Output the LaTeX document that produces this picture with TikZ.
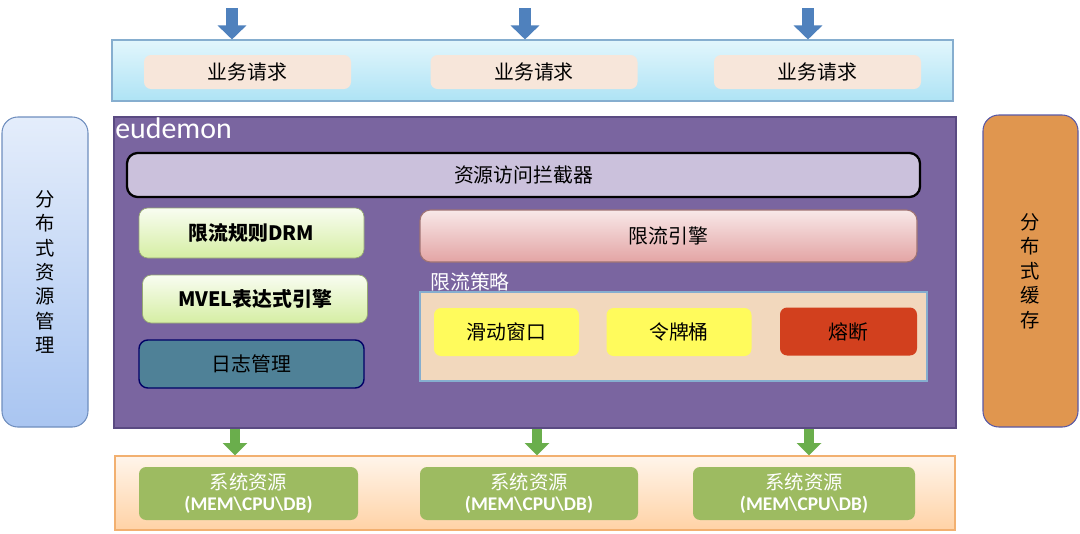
\documentclass[tikz,border=0pt]{standalone}
\usepackage{fontspec}
\setmainfont{Carlito}
\newfontfamily\cjk{Noto Sans CJK SC}
\usetikzlibrary{arrows.meta}
\newcommand\pxu{0.02cm}
\definecolor{reqline}{HTML}{86AECF}
\definecolor{reqtop}{HTML}{E2F6FC}
\definecolor{reqbottom}{HTML}{AEE3F5}
\definecolor{reqfill}{HTML}{F7E6DA}
\definecolor{corefill}{HTML}{7A65A0}
\definecolor{coreline}{HTML}{5A4A82}
\definecolor{guardfill}{HTML}{CBC1DC}
\definecolor{rulefill}{HTML}{D5EEA3}
\definecolor{logfill}{HTML}{4F8197}
\definecolor{enginefill}{HTML}{E3A4A4}
\definecolor{policyfill}{HTML}{F2D8BD}
\definecolor{algofill}{HTML}{FFFB5C}
\definecolor{breakfill}{HTML}{D2401E}
\definecolor{resfill}{HTML}{9DBB61}
\definecolor{resline}{HTML}{F2B070}
\definecolor{mgrline}{HTML}{6F8EBE}
\definecolor{mgrtop}{HTML}{E4EDFB}
\definecolor{mgrbottom}{HTML}{A9C5F1}
\definecolor{cachefill}{HTML}{E0964F}
\definecolor{inarrow}{HTML}{4F81BD}
\definecolor{outarrow}{HTML}{6AAE4C}
\tikzset{
  x=\pxu, y=-\pxu,
  zh/.style={font=\fontsize{11.3pt}{13pt}\selectfont\cjk},
  zhbold/.style={font=\fontsize{11.3pt}{13pt}\selectfont\cjk\bfseries},
  reqbox/.style={zh, fill=reqfill, rounded corners=4pt, minimum width=207*\pxu,
                 minimum height=34*\pxu, inner sep=0pt},
  sidebox/.style={draw, rounded corners=9pt, line width=0.6pt, inner sep=0pt,
                  align=center, font=\fontsize{11pt}{13.9pt}\selectfont\cjk},
  rulebox/.style={zhbold, draw=rulefill!70!black, top color=rulefill!15,
                  bottom color=rulefill, rounded corners=5pt, minimum width=225*\pxu,
                  minimum height=50*\pxu, inner sep=0pt},
  algobox/.style={zh, fill=algofill, rounded corners=4pt, minimum width=145*\pxu,
                  minimum height=48*\pxu, inner sep=0pt},
  resbox/.style={fill=resfill, rounded corners=4pt, minimum height=53*\pxu,
                 inner sep=0pt, text=white, align=center,
                 font=\fontsize{11pt}{12.2pt}\selectfont\cjk},
  inflow/.style={inarrow, line width=12*\pxu, -{Triangle[width=16pt, length=8pt]}},
  outflow/.style={outarrow, line width=10*\pxu, -{Triangle[width=13.6pt, length=7pt]}},
}
\begin{document}
\begin{tikzpicture}
  \useasboundingbox (0,0) rectangle (1080,534);
  % request layer
  \node[draw=reqline, top color=reqtop, bottom color=reqbottom, line width=0.6pt,
        minimum width=841*\pxu, minimum height=61*\pxu] (req) at (532.5,70.5) {};
  \node[reqbox] (rq1) at (247.5,72) {业务请求};
  \node[reqbox] (rq2) at (534,72) {业务请求};
  \node[reqbox] (rq3) at (817.5,72) {业务请求};
  \coordinate (in1) at (232,8);
  \coordinate (in2) at (525,8);
  \coordinate (in3) at (808,8);
  \foreach \i in {1,2,3}
    \draw[inflow] (in\i) -- (in\i |- req.north);

  % eudemon core
  \node[fill=corefill, draw=coreline, line width=1pt, minimum width=842*\pxu,
        minimum height=311*\pxu] (core) at (535,272.5) {};
  \node[anchor=west, text=white, inner sep=0pt,
        font=\fontsize{17pt}{20pt}\selectfont] (eud) at (115,128) {eudemon};
  \node[zh, fill=guardfill, draw=black, line width=1.3pt, rounded corners=6pt,
        minimum width=793*\pxu, minimum height=44*\pxu] (guard) at (523.5,175) {资源访问拦截器};
  \node[rulebox] (drm) at (251.5,233) {限流规则DRM};
  \node[rulebox, minimum height=48*\pxu] (mvel) at (255,299) {MVEL表达式引擎};
  \node[zh, fill=logfill, draw=black!60!blue, line width=0.8pt, rounded corners=5pt,
        minimum width=225*\pxu, minimum height=48*\pxu] (log) at (251.5,364) {日志管理};
  \node[zh, top color=enginefill!25, bottom color=enginefill, draw=enginefill!70!black,
        line width=0.6pt, rounded corners=6pt, minimum width=497*\pxu,
        minimum height=52*\pxu] (engine) at (668.5,236) {限流引擎};
  \node[zh, text=white, anchor=west, inner sep=0pt] (pol) at (430,282) {限流策略};
  \node[fill=policyfill, draw=reqline, line width=0.8pt, minimum width=507*\pxu,
        minimum height=89*\pxu] (policy) at (673.5,336.5) {};
  \node[algobox] (slide) at (506.5,332) {滑动窗口};
  \node[algobox] (token) at (679,332) {令牌桶};
  \node[algobox, fill=breakfill, minimum width=137*\pxu] (fuse) at (848.5,331.5) {熔断};

  % side columns
  \node[sidebox, draw=mgrline, top color=mgrtop, bottom color=mgrbottom,
        minimum width=86*\pxu, minimum height=310*\pxu] (mgr) at (45,272)
        {分\\布\\式\\资\\源\\管\\理};
  \node[sidebox, draw=gray!70!blue, fill=cachefill, minimum width=95*\pxu,
        minimum height=312*\pxu] (cache) at (1030.5,271) {分\\布\\式\\缓\\存};

  % system resources
  \node[draw=resline, top color=orange!8, bottom color=orange!35!white, line width=0.6pt,
        minimum width=840*\pxu, minimum height=74*\pxu] (sys) at (535,493) {};
  \node[resbox, minimum width=219*\pxu] (res1) at (248.5,493.5)
        {系统资源\\{\rmfamily\bfseries(MEM\textbackslash CPU\textbackslash DB)}};
  \node[resbox, minimum width=218*\pxu] (res2) at (529,493.5)
        {系统资源\\{\rmfamily\bfseries(MEM\textbackslash CPU\textbackslash DB)}};
  \node[resbox, minimum width=222*\pxu] (res3) at (804,493.5)
        {系统资源\\{\rmfamily\bfseries(MEM\textbackslash CPU\textbackslash DB)}};
  \coordinate (out1) at (235,428);
  \coordinate (out2) at (537,428);
  \coordinate (out3) at (809,428);
  \foreach \i in {1,2,3}
    \draw[outflow] (out\i |- core.south) -- (out\i |- sys.north);
\end{tikzpicture}
\end{document}
